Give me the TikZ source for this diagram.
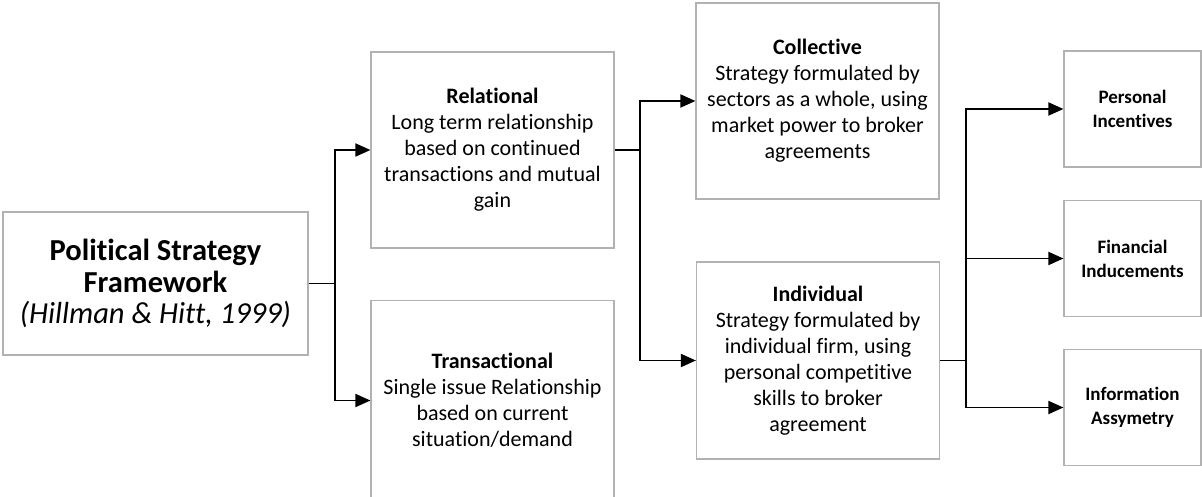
\documentclass[tikz,border=0pt]{standalone}
\usepackage{fontspec}
\setmainfont[Ligatures=NoCommon]{Carlito}
\usetikzlibrary{arrows.meta}

\begin{document}
\begin{tikzpicture}[x=1pt,y=-1pt,
  box/.style={draw=gray!60,line width=1.2pt,rectangle,align=center,inner sep=2pt,font=\fontsize{22}{26}\selectfont},
  mid/.style={box,minimum width=243pt,minimum height=196pt},
  leaf/.style={box,minimum width=137pt,minimum height=116pt,font=\fontsize{19}{24}\selectfont\bfseries},
  link/.style={line width=1.9pt},
  arr/.style={link,-{Triangle[length=15pt,width=13pt]}}]
\useasboundingbox (0,0) rectangle (1202,497);
\node[box,minimum width=305pt,minimum height=143pt,font=\fontsize{30.5}{31.5}\selectfont] (frame) at (155.5,283.5)
  {\textbf{Political Strategy}\\\textbf{Framework}\\\textit{(Hillman \& Hitt, 1999)}};
\node[mid] (rel) at (492.5,150)
  {\textbf{Relational}\\Long term relationship\\based on continued\\transactions and mutual\\gain};
\node[mid,minimum height=200pt] (trans) at (492.5,400.5)
  {\textbf{Transactional}\\Single issue Relationship\\based on current\\situation/demand};
\node[mid] (coll) at (817.5,101)
  {\textbf{Collective}\\Strategy formulated by\\sectors as a whole, using\\market power to broker\\agreements};
\node[mid,minimum height=197pt] (indiv) at (818,360.5)
  {\textbf{Individual}\\Strategy formulated by\\individual firm, using\\personal competitive\\skills to broker\\agreement};
\node[leaf] (pers) at (1132.5,109) {Personal\\Incentives};
\node[leaf] (fin) at (1132.5,258.5) {Financial\\Inducements};
\node[leaf] (info) at (1132.5,407.5) {Information\\Assymetry};
%%%%%%%%%%%%%%%%%%%%%%%%%%%%%%
\draw[link] (frame.east) -- ++(26,0) coordinate (j1);
\draw[arr] (j1) |- (rel.west);
\draw[arr] (j1) |- (trans.west);
\draw[link] (rel.east) -- ++(25,0) coordinate (j2);
\draw[arr] (j2) |- (coll.west);
\draw[arr] (j2) |- (indiv.west);
\draw[link] (indiv.east) -- ++(26,0) coordinate (j3);
\draw[arr] (j3) |- (pers.west);
\draw[arr] (j3) |- (fin.west);
\draw[arr] (j3) |- (info.west);
\end{tikzpicture}
\end{document}
